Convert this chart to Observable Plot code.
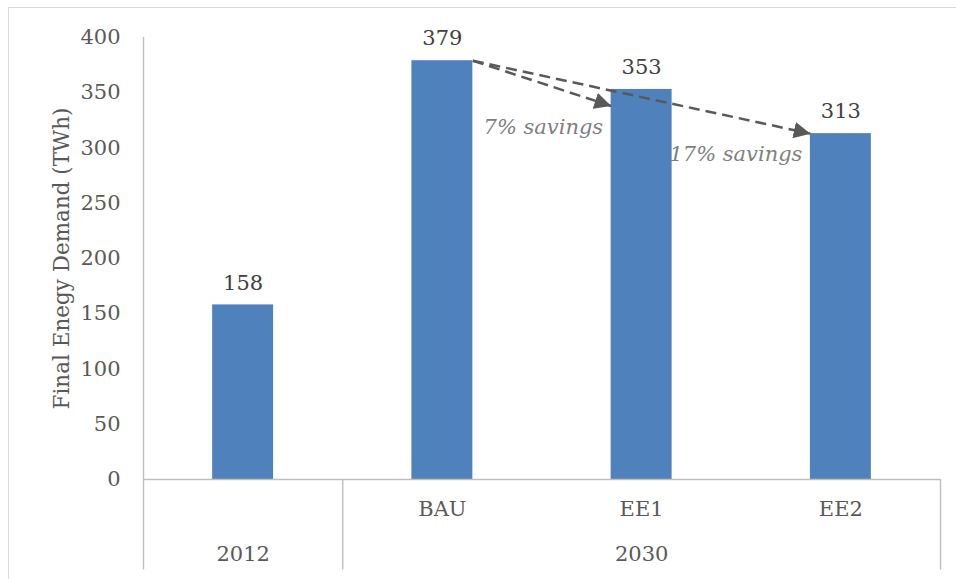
<!DOCTYPE html>
<html>
<head>
<meta charset="utf-8">
<script src="https://cdn.jsdelivr.net/npm/d3@7"></script>
<script src="https://cdn.jsdelivr.net/npm/@observablehq/plot@0.6"></script>
<style>
  html, body { margin: 0; padding: 0; background: white; overflow: hidden; }
  #wrap { position: relative; width: 956px; height: 579px; }
  #border { position: absolute; left: 8px; top: 7px; width: 1000px; height: 1000px;
            border: 1.5px solid #d9d9d9; box-sizing: border-box; pointer-events: none; }
  #chart { position: absolute; left: 0; top: 0; }
</style>
</head>
<body>
<div id="wrap"><div id="chart"></div><div id="border"></div></div>
<script>
// ---- data ----
const categories = ["2012", "BAU", "EE1", "EE2"];
const groups = ["2012", "2030", "2030", "2030"];
const values = [158, 379, 353, 313];
const yTicks = [0, 50, 100, 150, 200, 250, 300, 350, 400];
const yLabel = "Final Enegy Demand (TWh)";
const arrowFrom = ["BAU", "BAU"];
const arrowTo = ["EE1", "EE2"];
const arrowFromValue = [379, 379];
const arrowToValue = [338, 313];
const savingsLabels = ["7% savings", "17% savings"];

// ---- derived tables ----
const halfBar = 0.153;       // half bar width in category units
const axisDepth = 82;        // depth of category axis below zero (y units)
const idx = c => categories.indexOf(c);
const rows = categories.map((c, i) => ({i, category: c, group: groups[i], value: values[i]}));
const groupNames = [...new Set(groups)];
const groupRows = groupNames.map(g => {
  const ids = rows.filter(r => r.group === g).map(r => r.i);
  return {group: g, center: d3.mean(ids)};
});
const separators = [];
groups.forEach((g, i) => { if (i > 0 && g !== groups[i - 1]) separators.push(i - 0.5); });
separators.push(categories.length - 0.5);
const arrows = arrowFrom.map((f, k) => ({
  from: f, to: arrowTo[k], v1: arrowFromValue[k], v2: arrowToValue[k], label: savingsLabels[k]
}));

const axisColor = "#bfbfbf";
const textColor = "#595959";
const fs = 21;

const plot = Plot.plot({
  width: 956,
  height: 579,
  marginLeft: 143,
  marginRight: 16,
  marginTop: 37,
  marginBottom: 100,
  x: {type: "linear", domain: [-0.5, categories.length - 0.5], axis: null},
  y: {domain: [0, 400], axis: null},
  style: {fontFamily: "'DejaVu Serif', serif", fontSize: fs + "px", color: textColor, background: "transparent", overflow: "visible"},
  marks: [
    Plot.rectY(rows, {x1: d => d.i - halfBar, x2: d => d.i + halfBar, y1: 0, y2: "value", fill: "#4f81bd"}),
    Plot.ruleX([-0.5], {y1: -axisDepth, y2: 400, stroke: axisColor, strokeWidth: 1.4}),
    Plot.ruleX(separators, {y1: -axisDepth, y2: 0, stroke: axisColor, strokeWidth: 1.4}),
    Plot.ruleY([0], {x1: -0.5, x2: categories.length - 0.5, stroke: axisColor, strokeWidth: 1.4}),
    Plot.axisY({ticks: yTicks, tickSize: 0, tickPadding: 23, tickFormat: d => String(d), fontSize: fs, fill: textColor}),
    Plot.text([yLabel], {frameAnchor: "left", textAnchor: "middle", rotate: -90, dx: -81, fontSize: 21.5, fill: textColor}),
    Plot.text(rows, {x: "i", y: "value", text: d => String(d.value), dy: -22, fontSize: fs, fill: "#404040"}),
    Plot.text(rows.filter(d => d.group !== d.category), {x: "i", y: 0, text: "category", dy: 30, fontSize: fs, fill: textColor}),
    Plot.text(groupRows, {x: "center", y: 0, text: "group", dy: 75, fontSize: fs, fill: textColor}),
    Plot.link(arrows, {
      x1: d => idx(d.from) + halfBar, y1: "v1",
      x2: d => idx(d.to) - halfBar, y2: "v2",
      stroke: "#595959", strokeWidth: 2.5, strokeDasharray: "11,6", markerEnd: "arrow"
    }),
    Plot.text(arrows, {
      x: d => idx(d.to) - halfBar, y: "v2", text: "label",
      textAnchor: "end", dx: -8, dy: 21, fontStyle: "italic", fontSize: fs, fill: "#7f7f7f"
    })
  ]
});

// filled triangular arrowheads
plot.querySelectorAll("marker").forEach(m => {
  m.setAttribute("viewBox", "-10 -5 10 10");
  m.setAttribute("fill", "#595959");
  m.setAttribute("stroke", "none");
  const p = m.querySelector("path");
  if (p) { p.setAttribute("d", "M-10,-5L0,0L-10,5Z"); p.setAttribute("stroke", "none"); p.setAttribute("fill", "#595959"); }
});

document.getElementById("chart").appendChild(plot);
</script>
</body>
</html>
